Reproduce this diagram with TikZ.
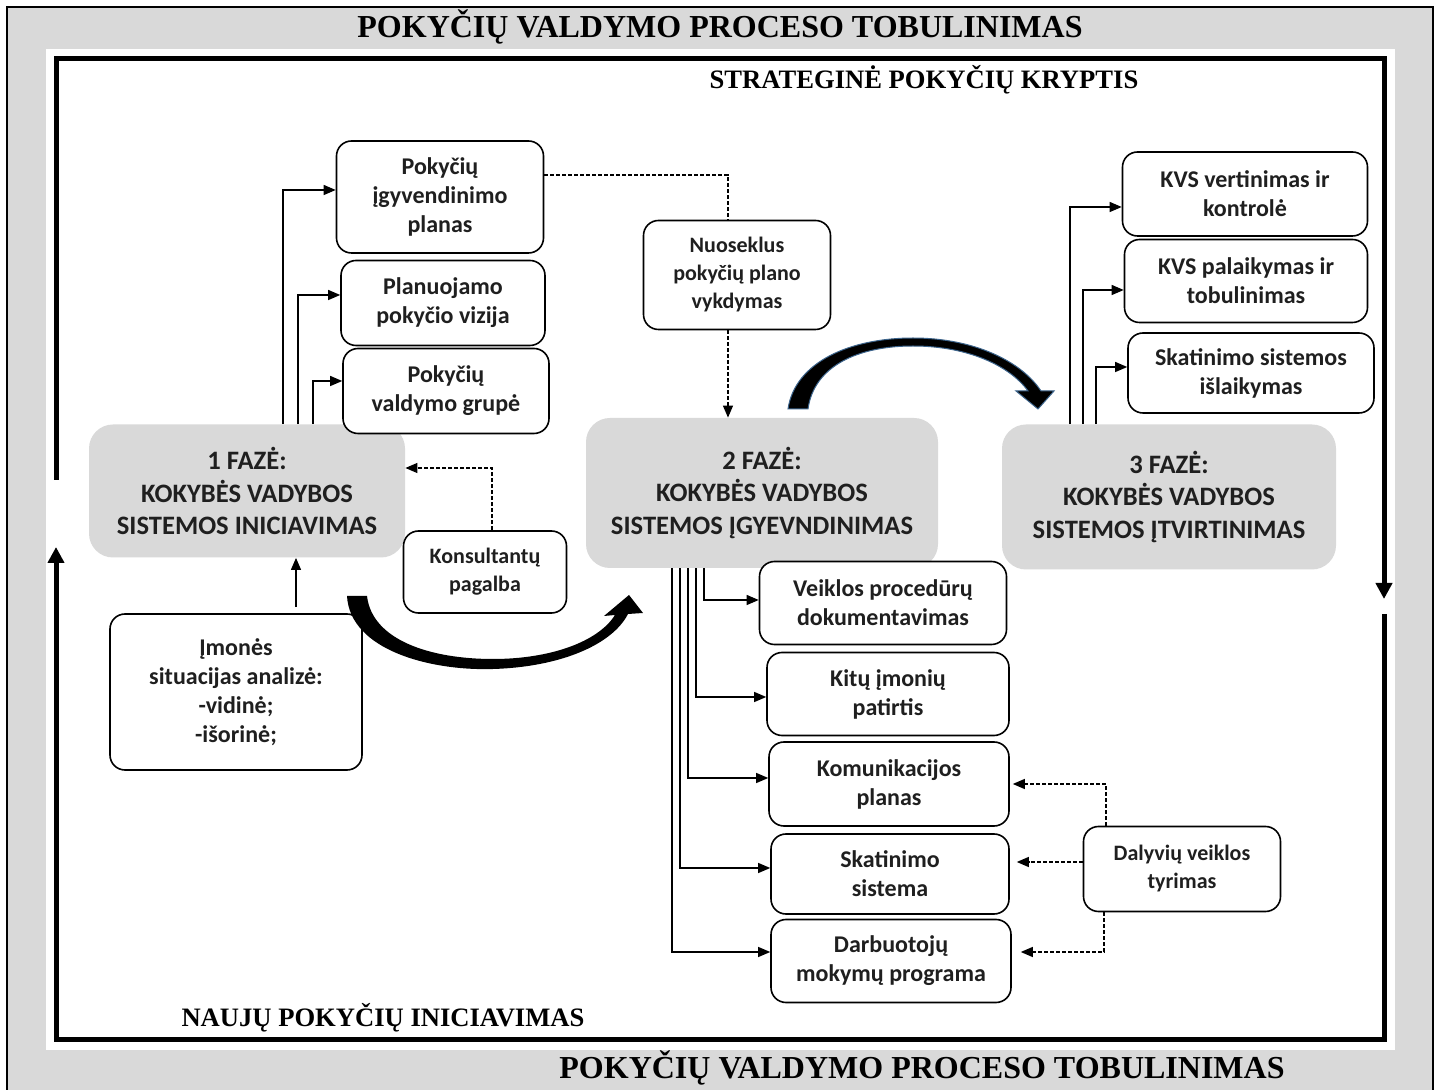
\documentclass[tikz,border=0pt]{standalone}
\usepackage{fontspec}
\setmainfont{Carlito}
\newfontfamily\titlefont{Liberation Serif}
\usetikzlibrary{arrows.meta}

\definecolor{bggray}{HTML}{D9D9D9}
\definecolor{txtgray}{HTML}{1F1F1F}
\definecolor{arcblue}{RGB}{60,100,140}

\tikzset{
    itembox/.style={
        draw=black,
        fill=white,
        line width=0.8pt,
        rounded corners=7.5pt,
        align=center,
        text=txtgray,
        font=\bfseries\fontsize{12}{14.5}\selectfont},
    smallbox/.style={
        itembox,
        font=\bfseries\fontsize{11}{14}\selectfont},
    phasebox/.style={
        fill=bggray,
        rounded corners=12pt,
        align=center,
        text=txtgray,
        font=\bfseries\fontsize{13.3}{16.3}\selectfont},
    link/.style={
        line width=0.6pt,
        -{Triangle[length=6pt,width=5pt]}},
    dlink/.style={
        link,
        dash pattern=on 2pt off 1pt},
    frameline/.style={
        line width=2.5pt,
        -{Triangle[length=8pt,width=8pt]}},
    heading/.style={
        font=\titlefont\bfseries\fontsize{16}{19}\selectfont},
    subheading/.style={
        font=\titlefont\bfseries\fontsize{13.3}{16}\selectfont}
}

\begin{document}
\begin{tikzpicture}[x=0.5pt, y=-0.5pt]
    \useasboundingbox (0,0) rectangle (1442,1090);
    \fill[white] (0,0) rectangle (1442,1090);
    \fill[bggray] (7,7) rectangle (1433,1090);
    \draw[line width=1pt] (7,1090) |- (1433,7) -- (1433,1090);
    \fill[white] (46,49) rectangle (1395,1050);

    \node[heading] (title) at (720,27) {POKYČIŲ VALDYMO PROCESO TOBULINIMAS};
    \node[heading] (titlebottom) at (922,1068) {POKYČIŲ VALDYMO PROCESO TOBULINIMAS};
    \node[subheading] (strategy) at (924,80) {STRATEGINĖ POKYČIŲ KRYPTIS};
    \node[subheading] (newinit) at (383,1018) {NAUJŲ POKYČIŲ INICIAVIMAS};

    \draw[frameline] (56,480) |- (1384,59) -- (1384,599);
    \draw[frameline] (1384,614) |- (56,1039) -- (56,547);

    % phases
    \node[
        phasebox,
        minimum width=158pt,
        minimum height=66.5pt]
        (faze1) at (247,491) {1 FAZĖ:\\KOKYBĖS VADYBOS\\SISTEMOS INICIAVIMAS};
    \node[
        phasebox,
        minimum width=176pt,
        minimum height=75pt]
        (faze2) at (762,493) {2 FAZĖ:\\KOKYBĖS VADYBOS\\SISTEMOS ĮGYEVNDINIMAS};
    \node[
        phasebox,
        minimum width=167pt,
        minimum height=72.5pt]
        (faze3) at (1169,497) {3 FAZĖ:\\KOKYBĖS VADYBOS\\SISTEMOS ĮTVIRTINIMAS};

    % phase 1 boxes
    \node[
        itembox,
        minimum width=103.5pt,
        minimum height=56pt]
        (plan) at (440,197) {Pokyčių\\įgyvendinimo\\planas};
    \node[
        itembox,
        minimum width=102pt,
        minimum height=42.5pt]
        (vizija) at (443,303) {Planuojamo\\pokyčio vizija};
    \node[
        itembox,
        minimum width=103pt,
        minimum height=42.5pt]
        (grupe) at (446,391) {Pokyčių\\valdymo grupė};
    \node[
        smallbox,
        minimum width=81.5pt,
        minimum height=41pt]
        (konsult) at (485,572) {Konsultantų\\pagalba};
    \node[
        itembox,
        minimum width=126pt,
        minimum height=78pt]
        (imones) at (236,692) {Įmonės\\situacijas analizė:\\-vidinė;\\-išorinė;};
    \node[
        smallbox,
        minimum width=93.5pt,
        minimum height=54.5pt]
        (nuosek) at (737,275) {Nuoseklus\\pokyčių plano\\vykdymas};

    % phase 3 boxes
    \node[
        itembox,
        minimum width=122.5pt,
        minimum height=42pt]
        (kvsvert) at (1245,194) {KVS vertinimas ir\\kontrolė};
    \node[
        itembox,
        minimum width=121.5pt,
        minimum height=41.5pt]
        (kvspal) at (1246,281) {KVS palaikymas ir\\tobulinimas};
    \node[
        itembox,
        minimum width=123pt,
        minimum height=40pt]
        (skatisl) at (1251,373) {Skatinimo sistemos\\išlaikymas};

    % phase 2 boxes
    \node[
        itembox,
        minimum width=123.5pt,
        minimum height=41.5pt]
        (veiklos) at (883,603) {Veiklos procedūrų\\dokumentavimas};
    \node[
        itembox,
        minimum width=121pt,
        minimum height=41.5pt]
        (kitu) at (888,694) {Kitų įmonių\\patirtis};
    \node[
        itembox,
        minimum width=120pt,
        minimum height=42pt]
        (komun) at (889,784) {Komunikacijos\\planas};
    \node[
        itembox,
        minimum width=119pt,
        minimum height=40pt]
        (skatsis) at (890,874) {Skatinimo\\sistema};
    \node[
        itembox,
        minimum width=120pt,
        minimum height=41.5pt]
        (darbuot) at (891,961) {Darbuotojų\\mokymų programa};
    \node[
        smallbox,
        minimum width=98.5pt,
        minimum height=42.5pt]
        (dalyviu) at (1182,869) {Dalyvių veiklos\\tyrimas};

    % connectors
    \draw[link] (faze1.north -| 283,0) |- (plan.west |- 0,190);
    \draw[link] (faze1.north -| 298,0) |- (vizija.west |- 0,295);
    \draw[link] (faze1.north -| 313,0) |- (grupe.west |- 0,381);
    \draw[link] (faze3.north -| 1070,0) |- (kvsvert.west |- 0,207);
    \draw[link] (faze3.north -| 1083,0) |- (kvspal.west |- 0,290);
    \draw[link] (faze3.north -| 1096,0) |- (skatisl.west |- 0,367);
    \draw[link] (faze2.south -| 704,0) |- (veiklos.west |- 0,600);
    \draw[link] (faze2.south -| 696,0) |- (kitu.west |- 0,697);
    \draw[link] (faze2.south -| 688,0) |- (komun.west |- 0,778);
    \draw[link] (faze2.south -| 680,0) |- (skatsis.west |- 0,868);
    \draw[link] (faze2.south -| 672,0) |- (darbuot.west |- 0,952);
    \draw[link, shorten <=3pt] (imones.north -| 296,0) -- (faze1.south -| 296,0);

    \draw[dlink] (konsult.north -| 492,0) |- (faze1.east |- 0,468);
    \draw[dlink, -] (plan.east |- 0,175) -| (nuosek.north -| 728,0);
    \draw[dlink] (nuosek.south -| 728,0) -- (faze2.north -| 728,0);
    \draw[dlink, shorten >=1.5pt] (dalyviu.north -| 1106,0) |- (komun.east |- 0,784);
    \draw[dlink, shorten >=3.5pt] (dalyviu.west |- 0,862) -- (skatsis.east |- 0,862);
    \draw[dlink, shorten >=4.5pt] (dalyviu.south -| 1104,0) |- (darbuot.east |- 0,952);

    % curved arrows
    \fill[black] (347,596) .. controls (350,650) and (430,671) .. (493,669)
        .. controls (560,667) and (612,645) .. (628,614)
        -- (643,613) -- (629,595) -- (604,616) -- (615,615)
        .. controls (598,642) and (550,659) .. (493,659)
        .. controls (430,659) and (372,640) .. (367,596) -- cycle;
    \filldraw[fill=black, draw=arcblue, line width=0.5pt]
        (788,409) .. controls (795,362) and (850,338) .. (913,338)
        .. controls (975,338) and (1022,362) .. (1041,391)
        -- (1054,391) -- (1038,409) -- (1016,391) -- (1028,391)
        .. controls (1010,366) and (968,346) .. (913,346)
        .. controls (858,346) and (814,366) .. (808,409) -- cycle;
\end{tikzpicture}
\end{document}
